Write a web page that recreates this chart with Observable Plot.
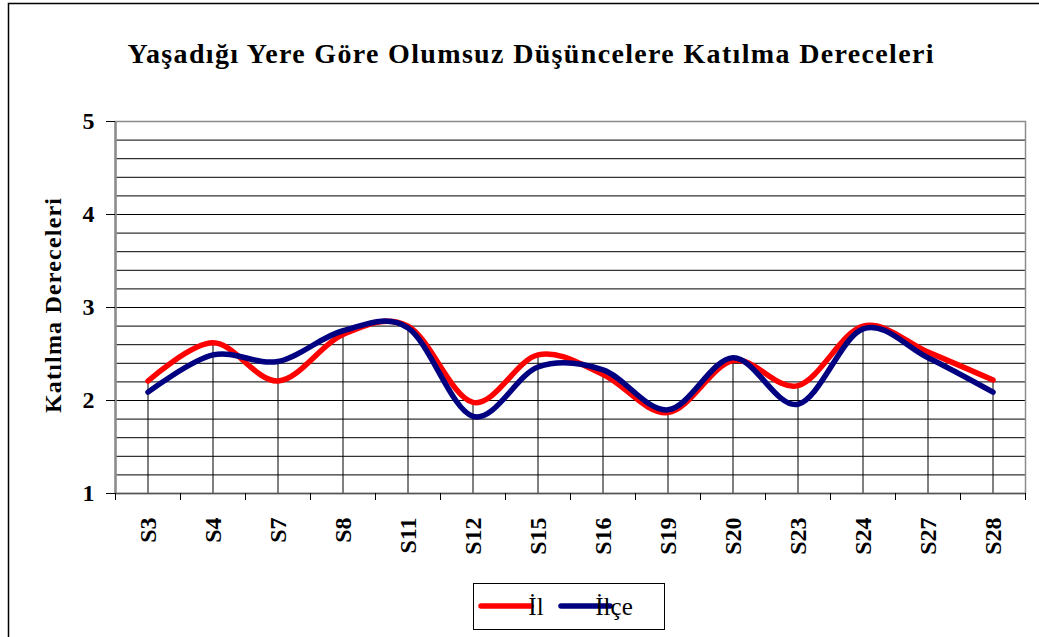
<!DOCTYPE html>
<html>
<head>
<meta charset="utf-8">
<script src="https://cdn.jsdelivr.net/npm/d3@7"></script>
<script src="https://cdn.jsdelivr.net/npm/@observablehq/plot@0.6"></script>
<style>
  html, body { margin: 0; padding: 0; background: #fff; }
  #chart { width: 1039px; height: 637px; overflow: hidden; }
</style>
</head>
<body>
<div id="chart"></div>
<script>
const titleText = "Yaşadığı Yere Göre Olumsuz Düşüncelere Katılma Dereceleri";
const yLabel = "Katılma Dereceleri";
const categories = ["S3","S4","S7","S8","S11","S12","S15","S16","S19","S20","S23","S24","S27","S28"];
const ilValues   = [2.21, 2.62, 2.21, 2.71, 2.80, 1.98, 2.49, 2.28, 1.87, 2.43, 2.16, 2.80, 2.52, 2.22];
const ilceValues = [2.09, 2.49, 2.42, 2.75, 2.78, 1.83, 2.36, 2.33, 1.90, 2.46, 1.96, 2.77, 2.46, 2.09];
const seriesNames = ["İl", "İlçe"];
const seriesColors = ["#ff0000", "#000080"];
const yMajorTicks = [1, 2, 3, 4, 5];
const yGridTicks = d3.range(1, 5.001, 0.2).map(v => +v.toFixed(1));

const n = categories.length;
const idx = d3.range(n);
const rows = idx.map(i => ({i, il: ilValues[i], ilce: ilceValues[i], top: Math.max(ilValues[i], ilceValues[i])}));
const boundaries = d3.range(n + 1).map(i => i - 0.5);
const serif = "'Liberation Serif', 'Times New Roman', serif";

const plot = Plot.plot({
  width: 1039,
  height: 637,
  marginLeft: 115,
  marginRight: 14,
  marginTop: 121,
  marginBottom: 144,
  style: {fontFamily: serif, background: "white", overflow: "visible"},
  x: {type: "linear", domain: [-0.5, n - 0.5]},
  y: {domain: [1, 5]},
  marks: [
    Plot.gridY(yGridTicks, {stroke: "#000", strokeOpacity: 1, strokeWidth: 1}),
    Plot.ruleX(rows, {x: "i", y1: 1, y2: "top", stroke: "#000", strokeWidth: 1}),
    Plot.frame({stroke: "#8c8c8c", strokeWidth: 1.5}),
    Plot.ruleX([-0.5], {stroke: "#8c8c8c", strokeWidth: 2.5}),
    Plot.ruleY([1], {stroke: "#555", strokeWidth: 1.5}),
    Plot.lineY(rows, {x: "i", y: "il", stroke: seriesColors[0], strokeWidth: 5.5, curve: "cardinal", strokeLinecap: "round", strokeLinejoin: "round"}),
    Plot.lineY(rows, {x: "i", y: "ilce", stroke: seriesColors[1], strokeWidth: 5.5, curve: "cardinal", strokeLinecap: "round", strokeLinejoin: "round"}),
    Plot.axisY(yMajorTicks, {tickSize: 9, tickPadding: 12, tickFormat: d3.format("d"), fontSize: 24, fontWeight: "bold", stroke: "#000", fill: "#000", label: null}),
    Plot.axisX(boundaries, {tickSize: 7, tickFormat: () => "", stroke: "#000", label: null}),
    Plot.axisX(idx, {tickSize: 0, tickPadding: 24, tickRotate: -90, tickFormat: i => categories[i], fontSize: 24, fontWeight: "bold", fill: "#000", label: null}),
    Plot.text([titleText], {frameAnchor: "top", dx: -40, dy: -78, fontSize: 28, fontWeight: "bold", fill: "#000"}),
    Plot.text([yLabel], {frameAnchor: "left", dx: -62, dy: -2, rotate: -90, textAnchor: "middle", fontSize: 24, fontWeight: "bold", fill: "#000"})
  ]
});

const svg = d3.select(plot);
// stretch title and y label to the reference's widths
svg.selectAll("text").each(function() {
  const t = d3.select(this);
  const s = t.text();
  if (s === titleText) t.attr("textLength", 806).attr("lengthAdjust", "spacing");
  if (s === yLabel) t.attr("textLength", 215).attr("lengthAdjust", "spacing");
});

// outer chart border
svg.insert("rect", ":first-child")
  .attr("x", 8.5).attr("y", 3.5).attr("width", 1100).attr("height", 700)
  .attr("fill", "white").attr("stroke", "#000").attr("stroke-width", 1.5);

// legend
const lg = svg.append("g").attr("font-family", serif);
lg.append("rect").attr("x", 473.5).attr("y", 583.5).attr("width", 191).attr("height", 46)
  .attr("fill", "white").attr("stroke", "#000").attr("stroke-width", 1);
const legendItems = [
  {name: seriesNames[0], color: seriesColors[0], x0: 481, x1: 531, tx: 536},
  {name: seriesNames[1], color: seriesColors[1], x0: 561, x1: 610, tx: 614}
];
legendItems.forEach(d => {
  lg.append("line").attr("x1", d.x0).attr("x2", d.x1).attr("y1", 606).attr("y2", 606)
    .attr("stroke", d.color).attr("stroke-width", 5.5).attr("stroke-linecap", "round");
  lg.append("text").attr("x", d.tx).attr("y", 615).attr("font-size", 25).attr("fill", "#000").text(d.name);
});

document.getElementById("chart").appendChild(plot);
</script>
</body>
</html>
